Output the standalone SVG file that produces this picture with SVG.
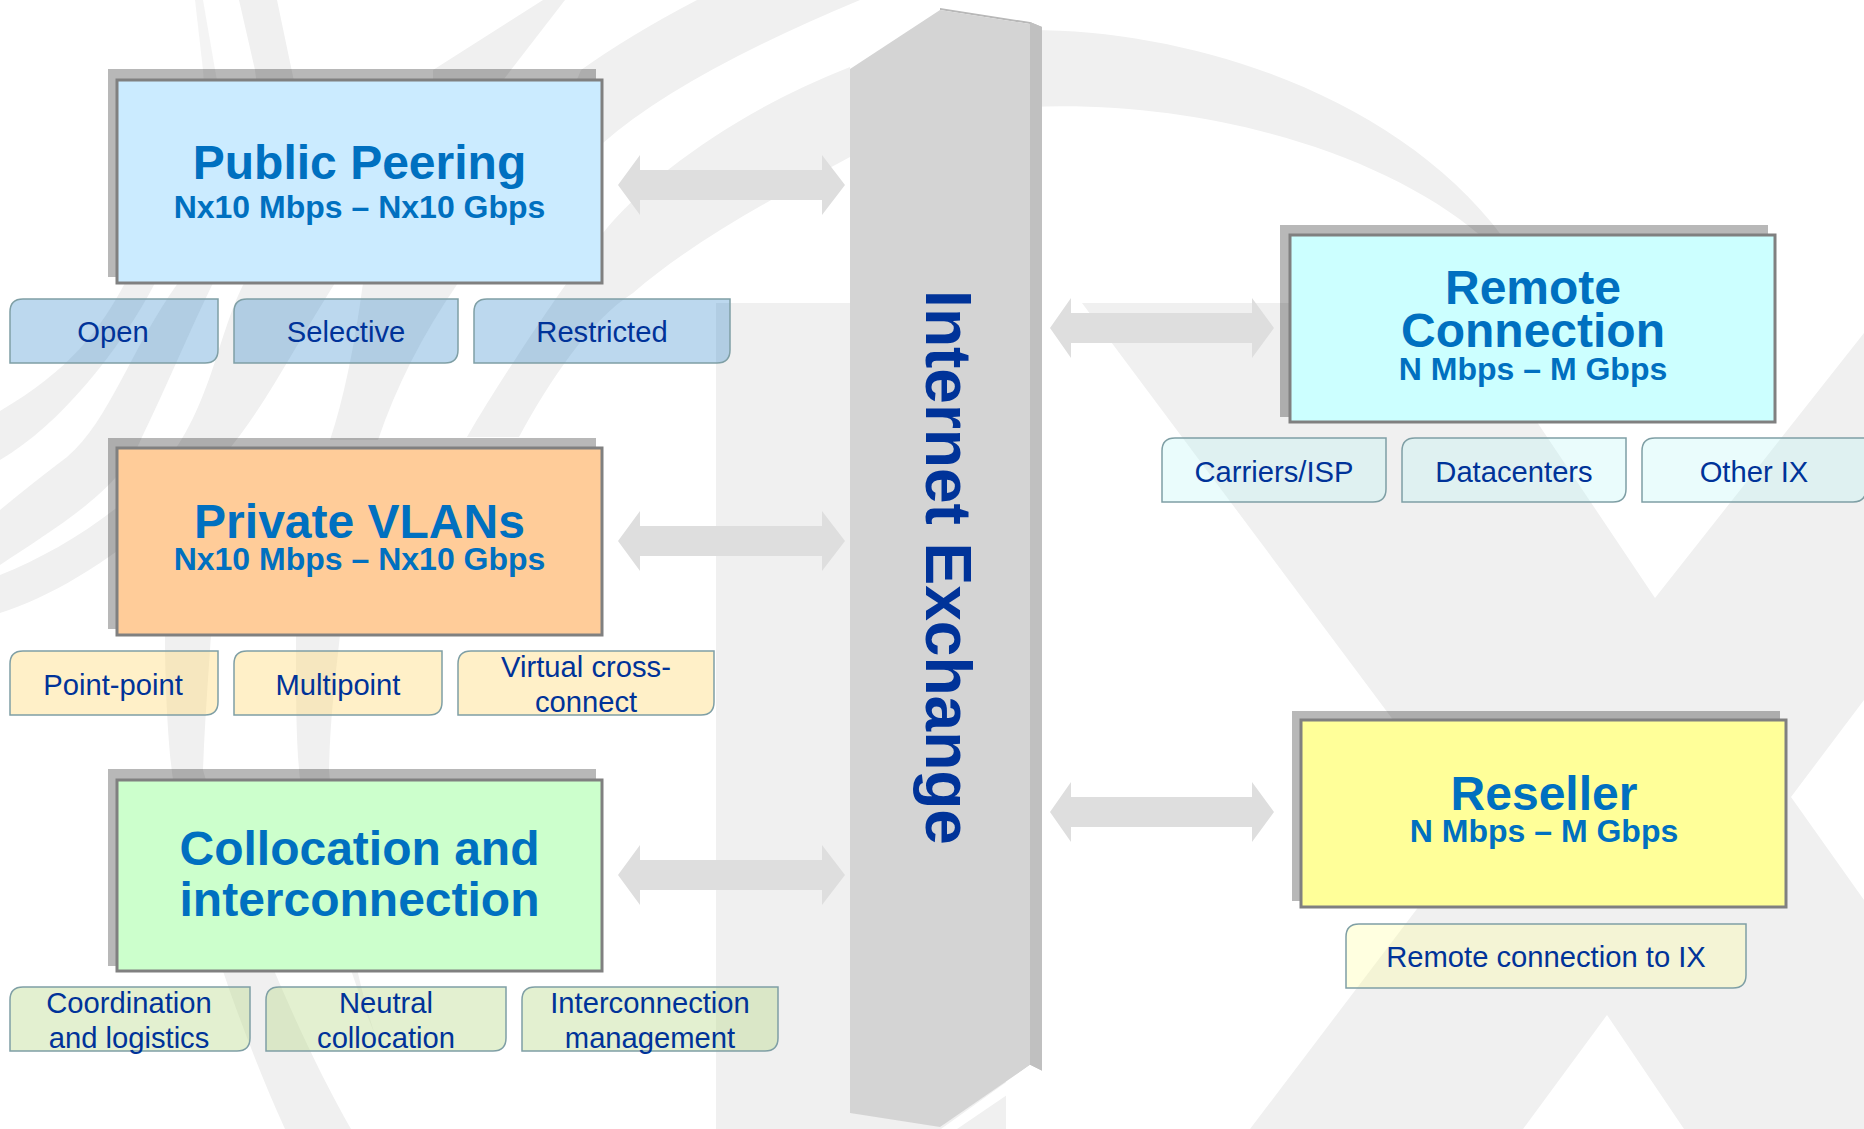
<svg xmlns="http://www.w3.org/2000/svg" width="1864" height="1129" viewBox="0 0 1864 1129">
<style>
text{font-family:"Liberation Sans",Arial,sans-serif;text-anchor:middle}
.t{font-weight:bold;font-size:48px;fill:#0070c0}
.s{font-weight:bold;font-size:32px;fill:#0070c0}
.p{font-size:29.2px;fill:#003399}
.sh{fill:#000;fill-opacity:.28}
.box{stroke:#808080;stroke-width:3}
.pill{stroke:#7f9fa5;stroke-width:1.5}
.blue{fill:#207dc6;fill-opacity:.3}
.yel{fill:#ffd975;fill-opacity:.4}
.grn{fill:#b9d989;fill-opacity:.4}
.cyn{fill:#b9f5f5;fill-opacity:.3}
.ivy{fill:#ffff98;fill-opacity:.3}
.wm{fill:#f0f0f0}
.arr{fill:#dedede}
</style>
<defs>
<path id="al" d="M0 0L22 -30V-15H204V-30L227 0L204 30V15H22V30Z"/>
<path id="ar" d="M0 0L21 -30V-15H202V-30L224 0L202 30V15H21V30Z"/>
</defs>
<g id="watermark">
<rect class="wm" x="716" y="303" width="290" height="826"/>
<path class="wm" d="M1082 303L1476 831L1250 1129H1523L1607 1015L1684 1129H1864V900L1791 797L1864 700V333L1655 598L1537 422L1460 303Z"/>
<path class="wm" d="M1030 30C1200 30 1400 100 1502 236H1481C1380 150 1200 100 1030 107Z"/>
<path class="wm" d="M697 0Q630 35 581 70L560 120L603 143Q680 75 860 0Z"/>
<path class="wm" d="M363 283Q350 380 330 440H378Q405 360 458 283Z"/>
<path class="wm" d="M850 67C740 110 650 175 603 233C560 290 500 380 467 437H519C550 380 590 320 633 293C700 235 790 190 850 157Z"/>
<path class="wm" d="M543 0L433 70V110H480L565 0Z"/>
<path class="wm" d="M195 0L203 70L206 110H222L203 0Z" fill-opacity=".7"/>
<path class="wm" d="M239 0L255 70L260 110H300L277 0Z"/>
<path class="wm" d="M125 283C100 330 70 370 0 411V460C60 425 120 350 155 283Z"/>
<path class="wm" d="M178 283C130 350 110 420 67 457Q30 485 0 510V565C60 525 120 490 142 437C165 390 190 330 213 283Z"/>
<path class="wm" d="M244 283C215 340 210 420 150 480C100 525 50 555 0 575V613C50 597 107 565 180 500C250 440 280 370 335 283Z"/>
<path class="wm" d="M165 635C165 700 170 770 175 790C195 900 240 1030 285 1129H351C300 1040 240 900 203 770C205 720 208 680 211 635Z"/>
<path class="wm" d="M296 635C296 700 296 740 300 780C315 860 345 960 375 1035C350 960 335 850 329 770C330 720 335 680 340 635Z"/>
</g>
<g id="exchange">
<path fill="#b8b8b8" d="M940 8L1030 22L1042 27V70H1030V24L940 10Z"/>
<path fill="#c0c0c0" d="M1030 22L1042 27V1071L1030 1065Z"/>
<path fill="#d4d4d4" d="M850 69L940 10L1030 24V1065L940 1127L850 1113Z"/>
<path fill="#fff" d="M941 1129L1030 1065L1042 1071L957 1129Z"/>
<text transform="translate(926 567.500) rotate(90)" style="font-weight:bold;font-size:64px;fill:#003399">Internet Exchange</text>
</g>
<g id="connectors" class="arr">
<use href="#al" x="618" y="185"/>
<use href="#al" x="618" y="541"/>
<use href="#al" x="618" y="875"/>
<use href="#ar" x="1050" y="328"/>
<use href="#ar" x="1050" y="812"/>
</g>
<g id="public-peering">
<rect class="sh" x="108" y="69" width="488" height="208"/>
<rect class="box" x="117" y="80" width="485" height="203" fill="#cbebff"/>
<text class="t" x="359.500" y="179">Public Peering</text>
<text class="s" x="359.500" y="218">Nx10 Mbps – Nx10 Gbps</text>
</g>
<g id="open"><path class="pill blue" d="M23 299H218V350Q218 363 205 363H10V312Q10 299 23 299Z"/><text class="p" x="113" y="342">Open</text></g>
<g id="selective"><path class="pill blue" d="M247 299H458V350Q458 363 445 363H234V312Q234 299 247 299Z"/><text class="p" x="346" y="342">Selective</text></g>
<g id="restricted"><path class="pill blue" d="M487 299H730V350Q730 363 717 363H474V312Q474 299 487 299Z"/><text class="p" x="602" y="342">Restricted</text></g>
<g id="private-vlans">
<rect class="sh" x="108" y="438" width="488" height="191"/>
<rect class="box" x="117" y="448" width="485" height="187" fill="#ffcc99"/>
<text class="t" x="359.500" y="538">Private VLANs</text>
<text class="s" x="359.500" y="570">Nx10 Mbps – Nx10 Gbps</text>
</g>
<g id="point-point"><path class="pill yel" d="M23 651H218V702Q218 715 205 715H10V664Q10 651 23 651Z"/><text class="p" x="113" y="695">Point-point</text></g>
<g id="multipoint"><path class="pill yel" d="M247 651H442V702Q442 715 429 715H234V664Q234 651 247 651Z"/><text class="p" x="338" y="695">Multipoint</text></g>
<g id="virtual"><path class="pill yel" d="M471 651H714V702Q714 715 701 715H458V664Q458 651 471 651Z"/><text class="p" x="586" y="677">Virtual cross-</text><text class="p" x="586" y="712">connect</text></g>
<g id="collocation">
<rect class="sh" x="108" y="769" width="488" height="197"/>
<rect class="box" x="117" y="780" width="485" height="191" fill="#ccffcc"/>
<text class="t" x="359.500" y="865">Collocation and</text>
<text class="t" x="359.500" y="916">interconnection</text>
</g>
<g id="coordination"><path class="pill grn" d="M23 987H250V1038Q250 1051 237 1051H10V1000Q10 987 23 987Z"/><text class="p" x="129" y="1013">Coordination</text><text class="p" x="129" y="1048">and logistics</text></g>
<g id="neutral"><path class="pill grn" d="M279 987H506V1038Q506 1051 493 1051H266V1000Q266 987 279 987Z"/><text class="p" x="386" y="1013">Neutral</text><text class="p" x="386" y="1048">collocation</text></g>
<g id="interconnection"><path class="pill grn" d="M535 987H778V1038Q778 1051 765 1051H522V1000Q522 987 535 987Z"/><text class="p" x="650" y="1013">Interconnection</text><text class="p" x="650" y="1048">management</text></g>
<g id="remote">
<rect class="sh" x="1280" y="225" width="488" height="192"/>
<rect class="box" x="1290" y="235" width="485" height="187" fill="#ccffff"/>
<text class="t" x="1533" y="304">Remote</text>
<text class="t" x="1533" y="347">Connection</text>
<text class="s" x="1533" y="380">N Mbps – M Gbps</text>
</g>
<g id="carriers"><path class="pill cyn" d="M1175 438H1386V489Q1386 502 1373 502H1162V451Q1162 438 1175 438Z"/><text class="p" x="1274" y="482">Carriers/ISP</text></g>
<g id="datacenters"><path class="pill cyn" d="M1415 438H1626V489Q1626 502 1613 502H1402V451Q1402 438 1415 438Z"/><text class="p" x="1514" y="482">Datacenters</text></g>
<g id="other"><path class="pill cyn" d="M1655 438H1866V489Q1866 502 1853 502H1642V451Q1642 438 1655 438Z"/><text class="p" x="1754" y="482">Other IX</text></g>
<g id="reseller">
<rect class="sh" x="1292" y="711" width="488" height="190"/>
<rect class="box" x="1301" y="720" width="485" height="187" fill="#ffff99"/>
<text class="t" x="1544" y="810">Reseller</text>
<text class="s" x="1544" y="842">N Mbps – M Gbps</text>
</g>
<g id="remote-ix"><path class="pill ivy" d="M1359 924H1746V975Q1746 988 1733 988H1346V937Q1346 924 1359 924Z"/><text class="p" x="1546" y="967">Remote connection to IX</text></g>
</svg>
